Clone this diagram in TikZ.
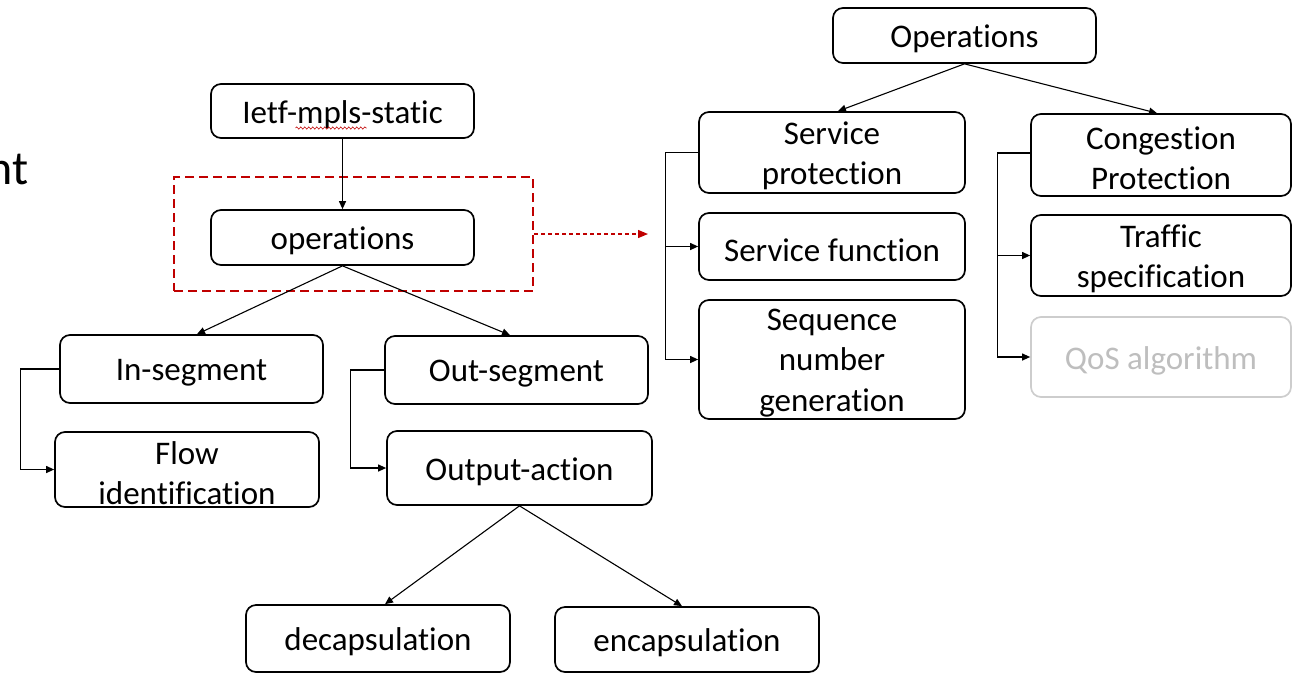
\documentclass[tikz,border=0pt]{standalone}
\usepackage{fontspec}
\setmainfont{Carlito}[Ligatures=NoCommon]
\usetikzlibrary{arrows.meta,decorations.pathmorphing,calc}
\definecolor{hired}{RGB}{192,0,0}
\definecolor{dimline}{RGB}{205,205,205}
\definecolor{dimtext}{RGB}{190,190,190}

\begin{document}
\begin{tikzpicture}[x=1pt,y=-1pt,
  box/.style={draw, line width=1.7pt, rounded corners=10pt,
    inner sep=0pt, minimum width=263pt},
  boxtext/.style={align=center, inner sep=0pt, yshift=-3.5pt,
    font=\fontsize{33}{40.5}\selectfont},
  txt/.style={label={[boxtext]center:{#1}}},
  dimtxt/.style={label={[boxtext, text=dimtext]center:{#1}}},
  dimbox/.style={box, draw=dimline},
  link/.style={line width=1.1pt},
  conn/.style={link, -{Triangle[length=8pt,width=7pt]}},
  hlbox/.style={draw=hired, line width=2.2pt, dash pattern=on 9pt off 5pt,
    minimum width=359pt, minimum height=114pt, inner sep=0pt},
  hlarrow/.style={draw=hired, line width=1.3pt, dash pattern=on 4pt off 3pt,
    -{Triangle[length=10pt,width=8pt]}, hired}
]
\useasboundingbox (0,0) rectangle (1292,673);

% partial slide text at the left edge
\node[anchor=base east, inner sep=0pt, font=\fontsize{48}{58}\selectfont] (side) at (28.5,184) {nt};

% left tree
\node[box, minimum height=54pt, txt={Ietf-mpls-static}] (ietf) at (342.5,111) {};
\node[box, minimum height=55pt, txt={operations}] (opsl) at (342.5,237.5) {};
\node[box, minimum height=68pt, txt={In-segment}] (inseg) at (191.5,369) {};
\node[box, minimum width=264pt, minimum height=75pt, txt={Flow\\identification}] (flow) at (187,469.5) {};
\node[box, minimum height=68pt, txt={Out-segment}] (outseg) at (516.5,370) {};
\node[box, minimum width=265pt, minimum height=74pt, txt={Output-action}] (outact) at (519.5,468) {};
\node[box, minimum width=264pt, minimum height=67pt, txt={decapsulation}] (decap) at (378,638.5) {};
\node[box, minimum width=264pt, minimum height=65pt, txt={encapsulation}] (encap) at (687,639.5) {};

% spell-check underline under "mpls"
\draw[hired, line width=0.6pt, decorate,
  decoration={snake, amplitude=1.1pt, segment length=4pt}]
  ([xshift=-47pt,yshift=-17pt]ietf.center) -- ([xshift=24pt,yshift=-17pt]ietf.center);

% highlight around operations
\node[hlbox] (hl) at (353.5,234) {};
\coordinate (hlend) at (648,234);
\draw[hlarrow] (hl.east) -- (hlend);

% right tree
\node[box, minimum height=55pt, txt={Operations}] (opsr) at (964.5,35.5) {};
\node[box, minimum width=266pt, minimum height=81pt, txt={Service\\protection}] (sprot) at (832,152.5) {};
\node[box, minimum width=266pt, minimum height=67pt, txt={Service function}] (sfunc) at (832,246.5) {};
\node[box, minimum width=266pt, minimum height=119pt, txt={Sequence\\number\\generation}] (seq) at (832,359.5) {};
\node[box, minimum width=260pt, minimum height=82pt, txt={Congestion\\Protection}] (cong) at (1161,155) {};
\node[box, minimum width=260pt, minimum height=81pt, txt={Traffic\\specification}] (traf) at (1161,255.5) {};
\node[dimbox, minimum width=260pt, minimum height=80pt, dimtxt={QoS algorithm}] (qos) at (1161,357) {};

% tree connectors
\draw[conn] (ietf.south) -- (opsl.north);
\draw[conn] (opsl.south) -- ([xshift=5.5pt]inseg.north);
\draw[conn] (opsl.south) -- ([xshift=-6.5pt]outseg.north);
\draw[conn] (outact.south) -- ([xshift=7pt]decap.north);
\draw[conn] (outact.south) -- ([xshift=-5pt]encap.north);
\draw[conn] (opsr.south) -- ([xshift=6pt]sprot.north);
\draw[conn] (opsr.south) -- ([xshift=-4pt]cong.north);

% child brackets
\draw[conn] (inseg.west) -- ++(-39,0) |- (flow.west);
\draw[conn] (outseg.west) -- ++(-34,0) |- (outact.west);
\draw[conn] (sprot.west) -- ++(-33,0) coordinate (sb) |- (seq.west);
\draw[conn] (sb |- sfunc.west) -- (sfunc.west);
\draw[conn] ([yshift=2pt]cong.west) -- ++(-33,0) coordinate (cb) |- (qos.west);
\draw[conn] (cb |- traf.west) -- (traf.west);
\end{tikzpicture}
\end{document}
